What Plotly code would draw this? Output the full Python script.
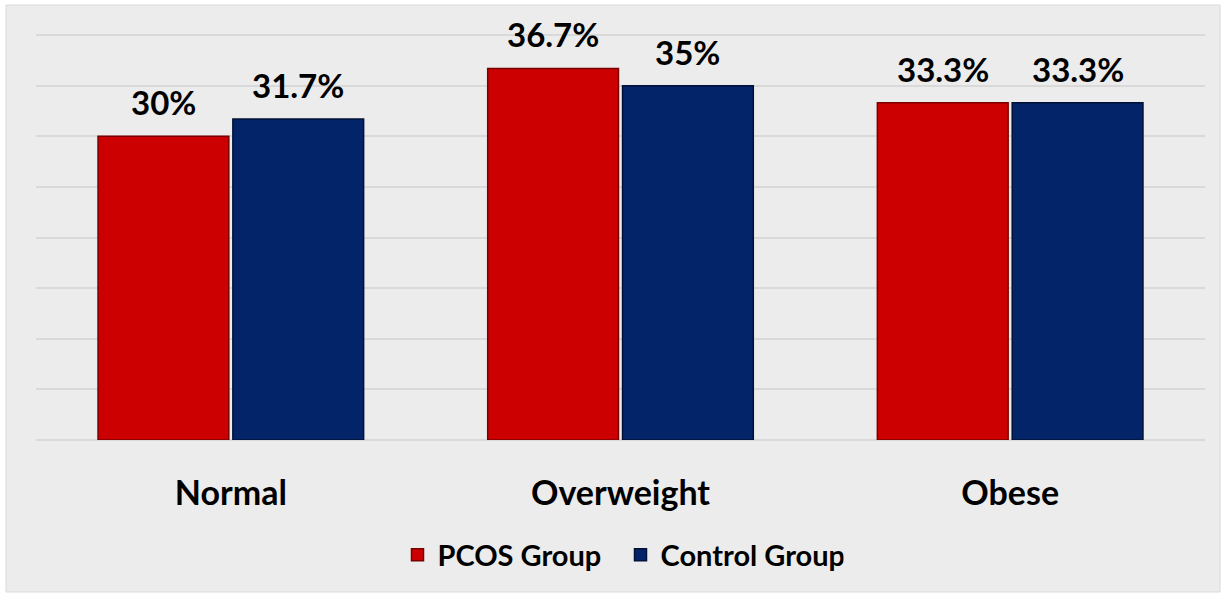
import plotly.graph_objects as go

categories = ["Normal", "Overweight", "Obese"]
pcos_values = [30, 36.7, 33.3]
control_values = [31.7, 35, 33.3]
series_names = ["PCOS Group", "Control Group"]

W, H = 1226, 597
ml, mr, mt, mb = 36, 21, 34, 157
plot_w = W - ml - mr
plot_h = H - mt - mb
bargap = 0.308
bargroupgap = 0.03

red = "#cc0000"
red_edge = "#7a0000"
blue = "#04246a"
blue_edge = "#011236"
font = "Lato, 'Open Sans', Arial, sans-serif"

fig = go.Figure()
fig.add_trace(go.Bar(x=categories, y=pcos_values, name=f"<b>{series_names[0]}</b>",
                     marker=dict(color=red, line=dict(color=red_edge, width=1.5))))
fig.add_trace(go.Bar(x=categories, y=control_values, name=f"<b>{series_names[1]}</b>",
                     marker=dict(color=blue, line=dict(color=blue_edge, width=1.5))))

cat_w = plot_w / len(categories)
slot = cat_w * (1 - bargap) / 2
annos = []
for vals, sign in ((pcos_values, -1), (control_values, 1)):
    for c, v in zip(categories, vals):
        annos.append(dict(x=c, y=v, xref="x", yref="y", text=f"<b>{v:g}%</b>",
                          showarrow=False, xshift=sign * slot / 2, yshift=34,
                          yanchor="middle",
                          font=dict(family=font, size=33, color="#000000")))

fig.update_layout(
    width=W, height=H,
    margin=dict(l=ml, r=mr, t=mt, b=mb),
    paper_bgcolor="#ffffff",
    plot_bgcolor="rgba(0,0,0,0)",
    barmode="group", bargap=bargap, bargroupgap=bargroupgap,
    annotations=annos,
    shapes=[dict(type="rect", xref="paper", yref="paper",
                 x0=(6 - ml) / plot_w, x1=(1220 - ml) / plot_w,
                 y0=(mt + plot_h - 592) / plot_h, y1=(mt + plot_h - 5) / plot_h,
                 fillcolor="#ececec", line=dict(color="#d9d9d9", width=1),
                 layer="below")],
    showlegend=True,
    legend=dict(orientation="h", x=0.5, xanchor="center", y=-115 / plot_h,
                yanchor="middle", font=dict(family=font, size=29, color="#000000"),
                bgcolor="rgba(0,0,0,0)", itemwidth=30, traceorder="normal",
                entrywidth=178),
    font=dict(family=font, color="#000000"),
)
fig.update_xaxes(showgrid=False, showline=False, zeroline=False,
                 tickfont=dict(family=font, size=34, color="#000000"),
                 ticks="", ticklabelstandoff=30,
                 tickprefix="<b>", ticksuffix="</b>")
fig.update_yaxes(range=[0, 40.1], tickvals=[0, 5, 10, 15, 20, 25, 30, 35, 40],
                 showticklabels=False, gridcolor="#d9d9d9",
                 gridwidth=2, zeroline=True, zerolinecolor="#d9d9d9", zerolinewidth=2,
                 showline=False)

fig.write_html("out.html")
